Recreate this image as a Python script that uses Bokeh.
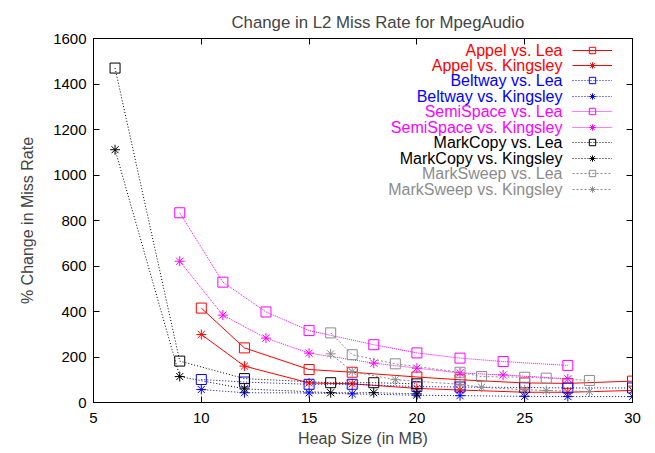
from bokeh.plotting import figure
from bokeh.models import Range1d, LinearAxis, Legend, LegendItem, Label, FixedTicker
from bokeh.embed import file_html
from bokeh.resources import INLINE

# ---------------- data ----------------
heap_appel = [10, 12, 15, 17, 20, 22, 25, 27, 30]
appel_lea = [415, 240, 145, 133, 112, 100, 86, 84, 94]
appel_kingsley = [299, 160, 86, 82, 62, 55, 45, 45, 53]

heap_beltway = [10, 12, 15, 17, 20, 22, 25, 27, 30]
beltway_lea = [101, 90, 80, 80, 70, 68, 66, 64, 64]
beltway_kingsley = [57, 43, 42, 38, 32, 30, 27, 26, 26]

heap_semispace = [9, 11, 13, 15, 18, 20, 22, 24, 27]
semispace_lea = [834, 529, 398, 316, 254, 218, 195, 180, 163]
semispace_kingsley = [621, 384, 283, 217, 173, 151, 130, 121, 104]

heap_markcopy = [6, 9, 12, 16, 18, 20]
markcopy_lea = [1470, 182, 105, 87, 87, 82]
markcopy_kingsley = [1111, 114, 60, 43, 43, 38]

heap_marksweep = [16, 17, 19, 22, 23, 25, 26, 28]
marksweep_lea = [306, 210, 170, 133, 114, 111, 107, 97]
marksweep_kingsley = [214, 136, 100, 80, 67, 56, 53, 48]

x_ticks = [5, 10, 15, 20, 25, 30]
y_ticks = [0, 200, 400, 600, 800, 1000, 1200, 1400, 1600]

TITLE = "Change in L2 Miss Rate for MpegAudio"
FONT = "Liberation Sans"
RED, BLUE, MAG, BLK, GRY = "#ff0000", "#0000ff", "#ff00ff", "#000000", "#8c8c8c"

series = [
    ("Appel vs. Lea", heap_appel, appel_lea, RED, "solid", "square"),
    ("Appel vs. Kingsley", heap_appel, appel_kingsley, RED, "solid", "asterisk"),
    ("Beltway vs. Lea", heap_beltway, beltway_lea, BLUE, "1 2", "square"),
    ("Beltway vs. Kingsley", heap_beltway, beltway_kingsley, BLUE, "1 2", "asterisk"),
    ("SemiSpace vs. Lea", heap_semispace, semispace_lea, MAG, "1 1", "square"),
    ("SemiSpace vs. Kingsley", heap_semispace, semispace_kingsley, MAG, "1 1", "asterisk"),
    ("MarkCopy vs. Lea", heap_markcopy, markcopy_lea, BLK, "1 2", "square"),
    ("MarkCopy vs. Kingsley", heap_markcopy, markcopy_kingsley, BLK, "1 2", "asterisk"),
    ("MarkSweep vs. Lea", heap_marksweep, marksweep_lea, GRY, "2 2", "square"),
    ("MarkSweep vs. Kingsley", heap_marksweep, marksweep_kingsley, GRY, "2 2", "asterisk"),
]

p = figure(width=655, height=453, output_backend="svg", toolbar_location=None,
           x_range=Range1d(5, 30), y_range=Range1d(0, 1600),
           min_border_left=93, min_border_right=23, min_border_top=38, min_border_bottom=51,
           title=TITLE)

p.title.align = "left"
p.title.offset = 138
p.title.standoff = 14
p.title.text_font = FONT
p.title.text_font_size = "16.8px"
p.title.text_font_style = "normal"

p.xgrid.visible = False
p.ygrid.visible = False
p.outline_line_color = "black"
p.outline_line_width = 1
p.background_fill_color = "white"
p.border_fill_color = "white"

def style_axis(ax, show_labels=True, ticks=None):
    ax.major_tick_in = 6
    ax.major_tick_out = 0
    ax.minor_tick_line_color = None
    ax.axis_line_color = "black"
    ax.major_tick_line_color = "black"
    ax.major_label_text_font = FONT
    ax.major_label_text_font_size = "15px"
    ax.major_label_text_color = "black"
    if not show_labels:
        ax.major_label_standoff = 0
        ax.major_label_text_font_size = "1px"
        ax.major_label_overrides = {t: "" for t in ticks}

p.xaxis.ticker = FixedTicker(ticks=x_ticks)
p.yaxis.ticker = FixedTicker(ticks=y_ticks)
style_axis(p.xaxis[0])
style_axis(p.yaxis[0])
p.xaxis.major_label_standoff = 10
p.yaxis.major_label_standoff = 7
p.xaxis.axis_label = "Heap Size (in MB)"
p.yaxis.axis_label = "% Change in Miss Rate"
for ax in (p.xaxis[0], p.yaxis[0]):
    ax.axis_label_text_font = FONT
    ax.axis_label_text_font_size = "16px"
    ax.axis_label_text_font_style = "normal"
p.xaxis.axis_label_standoff = 4
p.yaxis.axis_label_standoff = 14

top_ax = LinearAxis(ticker=FixedTicker(ticks=x_ticks))
right_ax = LinearAxis(ticker=FixedTicker(ticks=y_ticks))
style_axis(top_ax, False, x_ticks)
style_axis(right_ax, False, y_ticks)
p.add_layout(top_ax, "above")
p.add_layout(right_ax, "right")

# ---------------- layout constants (page pixels) ----------------
frame_bottom = 402
frame_left = 93
row0 = 49.5
row_step = 15.45
legend_x = 572 - frame_left
text_x = 562 - frame_left

# ---------------- series + legend ----------------
for i, (name, xs, ys, color, dash, marker) in enumerate(series):
    lr = p.line(xs, ys, line_color=color, line_width=1, line_dash=dash)
    sr = p.scatter(xs, ys, marker=marker, size=10, line_color=color,
                   fill_alpha=0, line_width=1)
    row_y = row0 + i * row_step
    leg = Legend(items=[LegendItem(label=" ", renderers=[lr, sr])],
                 location=(legend_x, frame_bottom - row_y - 8),
                 glyph_width=40, glyph_height=16, label_height=16,
                 padding=0, margin=0, spacing=0, label_standoff=0,
                 label_text_font_size="1px",
                 background_fill_alpha=0, border_line_alpha=0)
    p.add_layout(leg, "center")
    p.add_layout(Label(x=text_x, y=frame_bottom - row_y, x_units="screen", y_units="screen",
                       text=name, text_align="right", text_baseline="middle",
                       text_color=color, text_font=FONT, text_font_size="16px"))

open("out.html", "w").write(file_html(p, INLINE))
